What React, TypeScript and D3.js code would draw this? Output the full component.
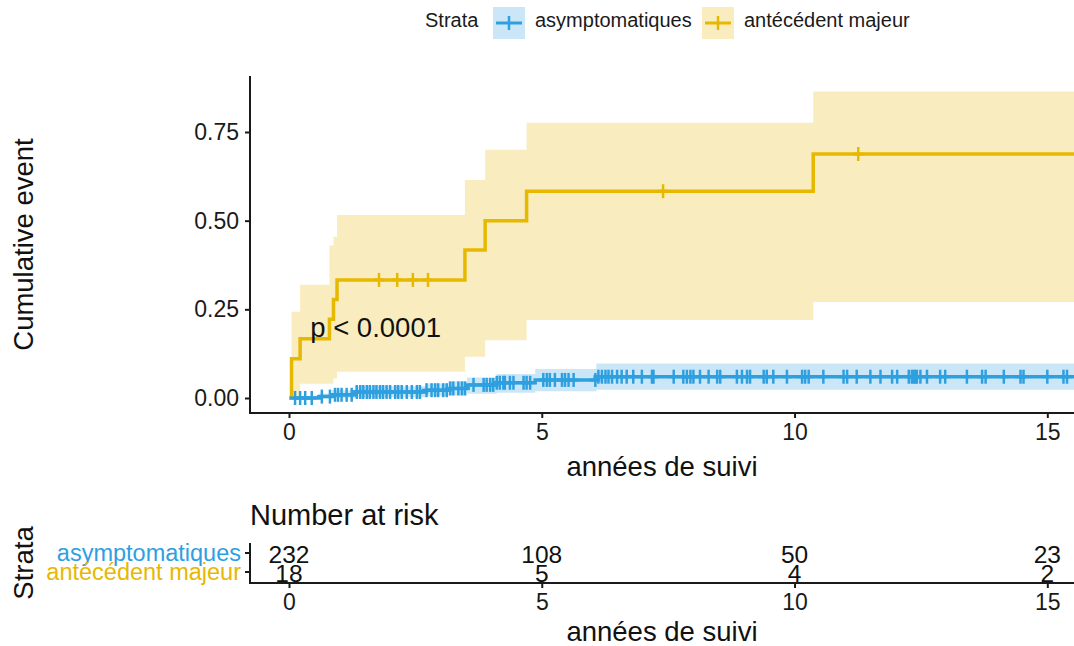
import React, { useEffect, useRef } from "react";
import * as d3 from "d3";

// ---------- data ----------
const X_TICKS = [0, 5, 10, 15];
const Y_TICKS = [0, 0.25, 0.5, 0.75];
const END_TIME = 16.2;

const STRATA = ["asymptomatiques", "antécédent majeur"];
const COLORS = ["#2E9FDF", "#E7B800"];

// asymptomatiques
const asymTimes = [0, 0.6, 0.85, 1.3, 2.72, 3.15, 3.52, 4.11, 4.87, 6.08];
const asymEst = [0, 0.004, 0.009, 0.017, 0.022, 0.027, 0.037, 0.043, 0.051, 0.06];
const asymLower = [0, 0, 0, 0.002, 0.005, 0.007, 0.012, 0.015, 0.019, 0.023];
const asymUpper = [0, 0.013, 0.022, 0.033, 0.041, 0.047, 0.058, 0.068, 0.082, 0.097];
const asymCensor = [
  0.12, 0.22, 0.32, 0.45, 0.65, 0.81, 0.91, 0.97, 1.04, 1.14, 1.24, 1.34, 1.41, 1.47, 1.54, 1.6, 1.67,
  1.73, 1.8, 1.86, 1.93, 2.0, 2.1, 2.16, 2.23, 2.33, 2.43, 2.53, 2.59, 2.72, 2.82, 2.89, 2.95, 3.05,
  3.12, 3.19, 3.25, 3.35, 3.42, 3.48, 3.65, 3.85, 3.91, 3.98, 4.04, 4.11, 4.17, 4.24, 4.27, 4.37, 4.44,
  4.64, 4.7, 4.77, 5.03, 5.1, 5.16, 5.26, 5.4, 5.46, 5.53, 5.63, 6.06, 6.12, 6.19, 6.26, 6.32, 6.39,
  6.49, 6.58, 6.68, 6.81, 6.98, 7.18, 7.21, 7.61, 7.8, 7.87, 7.94, 8.0, 8.13, 8.3, 8.47, 8.53, 8.86,
  8.96, 9.06, 9.12, 9.39, 9.45, 9.58, 9.85, 10.15, 10.21, 10.28, 10.57, 10.97, 11.04, 11.23, 11.5,
  11.7, 11.93, 12.03, 12.26, 12.32, 12.36, 12.39, 12.42, 12.49, 12.62, 12.88, 12.98, 13.41, 13.71,
  13.78, 14.14, 14.47, 14.53, 15.0, 15.32, 15.39,
];

// antécédent majeur
const antTimes = [0, 0.05, 0.22, 0.8, 0.88, 0.95, 3.48, 3.88, 4.7, 10.37];
const antEst = [0, 0.111, 0.167, 0.222, 0.278, 0.333, 0.417, 0.5, 0.583, 0.688];
const antLower = [0, 0.0, 0.04, 0.04, 0.055, 0.074, 0.116, 0.163, 0.22, 0.271];
const antUpper = [0, 0.243, 0.319, 0.43, 0.455, 0.516, 0.615, 0.7, 0.776, 0.864];
const antCensor = [1.78, 2.14, 2.45, 2.75, 7.4, 11.26];

// number at risk
const RISK_TIMES = [0, 5, 10, 15];
const asymRisk = [232, 108, 50, 23];
const antRisk = [18, 5, 4, 2];

const PVAL = "p < 0.0001";
const PVAL_X = 0.42;
const PVAL_Y = 0.19;

// ---------- layout ----------
const W = 1074;
const H = 646;
const FONT = "'Liberation Sans', Arial, Helvetica, sans-serif";
const PANEL_LEFT = 250;
const PANEL_TOP = 76;
const PANEL_BOTTOM = 413;
const RT_TOP = 543;
const RT_BOTTOM = 583;

type Pt = { t: number; est: number; lo: number; hi: number };

function buildSeries(times: number[], est: number[], lo: number[], hi: number[]): Pt[] {
  const pts = times.map((t, i) => ({ t, est: est[i], lo: lo[i], hi: hi[i] }));
  const last = pts[pts.length - 1];
  pts.push({ t: END_TIME, est: last.est, lo: last.lo, hi: last.hi });
  return pts;
}

function valueAt(pts: Pt[], t: number) {
  const i = d3.bisector((d: Pt) => d.t).right(pts, t) - 1;
  return pts[Math.max(0, i)].est;
}

const series = [
  { pts: buildSeries(asymTimes, asymEst, asymLower, asymUpper), censor: asymCensor, color: COLORS[0] },
  { pts: buildSeries(antTimes, antEst, antLower, antUpper), censor: antCensor, color: COLORS[1] },
];

function AxisG({ axis, transform }: { axis: any; transform: string }) {
  const ref = useRef<SVGGElement>(null);
  useEffect(() => {
    if (!ref.current) return;
    const g = d3.select(ref.current);
    g.call(axis);
    g.select(".domain").remove();
    g.selectAll(".tick line").attr("stroke", "#1a1a1a").attr("stroke-width", 2);
    g.selectAll(".tick text")
      .attr("fill", "#1a1a1a")
      .style("font-family", FONT)
      .style("font-size", "23px");
  }, [axis]);
  return <g ref={ref} transform={transform} />;
}

export default function App() {
  const x = d3.scaleLinear().domain([0, 15]).range([289, 1047.3]);
  const y = d3.scaleLinear().domain([0, 0.75]).range([398, 132]);
  const yRisk = d3.scalePoint<string>().domain(STRATA).range([553, 572]);

  const line = d3
    .line<Pt>()
    .x((d) => x(d.t))
    .y((d) => y(d.est))
    .curve(d3.curveStepAfter);
  const area = d3
    .area<Pt>()
    .x((d) => x(d.t))
    .y0((d) => y(d.lo))
    .y1((d) => y(d.hi))
    .curve(d3.curveStepAfter);

  const xAxis = d3.axisBottom(x).tickValues(X_TICKS).tickSize(5).tickPadding(6).tickFormat(d3.format("d") as any);
  const yAxis = d3.axisLeft(y).tickValues(Y_TICKS).tickSize(5).tickPadding(6).tickFormat(d3.format(".2f") as any);
  const xAxisRisk = d3.axisBottom(x).tickValues(X_TICKS).tickSize(5).tickPadding(6).tickFormat(d3.format("d") as any);

  const riskRows = [asymRisk, antRisk];

  return (
    <svg
      width={W}
      height={H}
      style={{ position: "absolute", left: 0, top: 0, background: "#fff" }}
      fontFamily={FONT}
    >
      <defs>
        <clipPath id="panel">
          <rect x={PANEL_LEFT} y={PANEL_TOP} width={W - PANEL_LEFT} height={PANEL_BOTTOM - PANEL_TOP} />
        </clipPath>
      </defs>

      {/* legend */}
      <g>
        <text x={425} y={27} fontSize={20} fill="#1a1a1a">Strata</text>
        {STRATA.map((s, i) => {
          const bx = i === 0 ? 493 : 702;
          const tx = i === 0 ? 535 : 744;
          const fill = d3.color(COLORS[i])!.copy({ opacity: 0.25 }).toString();
          return (
            <g key={s}>
              <rect x={bx} y={7} width={32} height={32} fill={fill} />
              <line x1={bx + 3} x2={bx + 29} y1={23} y2={23} stroke={COLORS[i]} strokeWidth={3} />
              <line x1={bx + 16} x2={bx + 16} y1={16} y2={30} stroke={COLORS[i]} strokeWidth={2.5} />
              <text x={tx} y={27} fontSize={20} fill="#1a1a1a">{s}</text>
            </g>
          );
        })}
      </g>

      {/* main panel */}
      <g clipPath="url(#panel)">
        {series.map((s, i) => (
          <path key={"a" + i} d={area(s.pts) || ""} fill={s.color} fillOpacity={0.25} stroke="none" />
        ))}
        {series.map((s, i) => (
          <path key={"l" + i} d={line(s.pts) || ""} fill="none" stroke={s.color} strokeWidth={3.5} />
        ))}
        {series.map((s, i) =>
          s.censor.map((t, j) => {
            const cx = x(t);
            const cy = y(valueAt(s.pts, t));
            return (
              <g key={"c" + i + "-" + j} stroke={s.color}>
                <line x1={cx} x2={cx} y1={cy - 7} y2={cy + 7} strokeWidth={2.5} />
                <line x1={cx - 5} x2={cx + 5} y1={cy} y2={cy} strokeWidth={3} />
              </g>
            );
          })
        )}
      </g>

      <text x={x(PVAL_X)} y={y(PVAL_Y) + 6} fontSize={27.5} fill="#111">{PVAL}</text>

      {/* axes main */}
      <line x1={PANEL_LEFT} x2={PANEL_LEFT} y1={PANEL_TOP} y2={PANEL_BOTTOM} stroke="#1a1a1a" strokeWidth={2} />
      <line x1={PANEL_LEFT - 1} x2={W} y1={PANEL_BOTTOM} y2={PANEL_BOTTOM} stroke="#1a1a1a" strokeWidth={2} />
      <AxisG axis={xAxis} transform={`translate(0,${PANEL_BOTTOM})`} />
      <AxisG axis={yAxis} transform={`translate(${PANEL_LEFT},0)`} />
      <text
        transform={`translate(33,${(PANEL_TOP + PANEL_BOTTOM) / 2}) rotate(-90)`}
        textAnchor="middle"
        fontSize={27.5}
        fill="#111"
      >
        Cumulative event
      </text>
      <text x={662} y={476} textAnchor="middle" fontSize={27.5} fill="#111">années de suivi</text>

      {/* risk table */}
      <text x={250} y={525} fontSize={29} fill="#111">Number at risk</text>
      <line x1={PANEL_LEFT} x2={PANEL_LEFT} y1={RT_TOP} y2={RT_BOTTOM} stroke="#1a1a1a" strokeWidth={2} />
      <line x1={PANEL_LEFT - 1} x2={W} y1={RT_BOTTOM} y2={RT_BOTTOM} stroke="#1a1a1a" strokeWidth={2} />
      {STRATA.map((s, i) => (
        <g key={"rt" + s}>
          <line x1={PANEL_LEFT - 5} x2={PANEL_LEFT} y1={yRisk(s)!} y2={yRisk(s)!} stroke="#1a1a1a" strokeWidth={2} />
          <text x={PANEL_LEFT - 9} y={yRisk(s)! + 8} textAnchor="end" fontSize={23.5} fill={COLORS[i]}>{s}</text>
          {RISK_TIMES.map((t, j) => (
            <text key={j} x={x(t)} y={yRisk(s)! + 10} textAnchor="middle" fontSize={24.5} fill="#111">
              {riskRows[i][j]}
            </text>
          ))}
        </g>
      ))}
      <AxisG axis={xAxisRisk} transform={`translate(0,${RT_BOTTOM})`} />
      <text
        transform={`translate(33,563) rotate(-90)`}
        textAnchor="middle"
        fontSize={27.5}
        fill="#111"
      >
        Strata
      </text>
      <text x={662} y={641} textAnchor="middle" fontSize={27.5} fill="#111">années de suivi</text>
    </svg>
  );
}
